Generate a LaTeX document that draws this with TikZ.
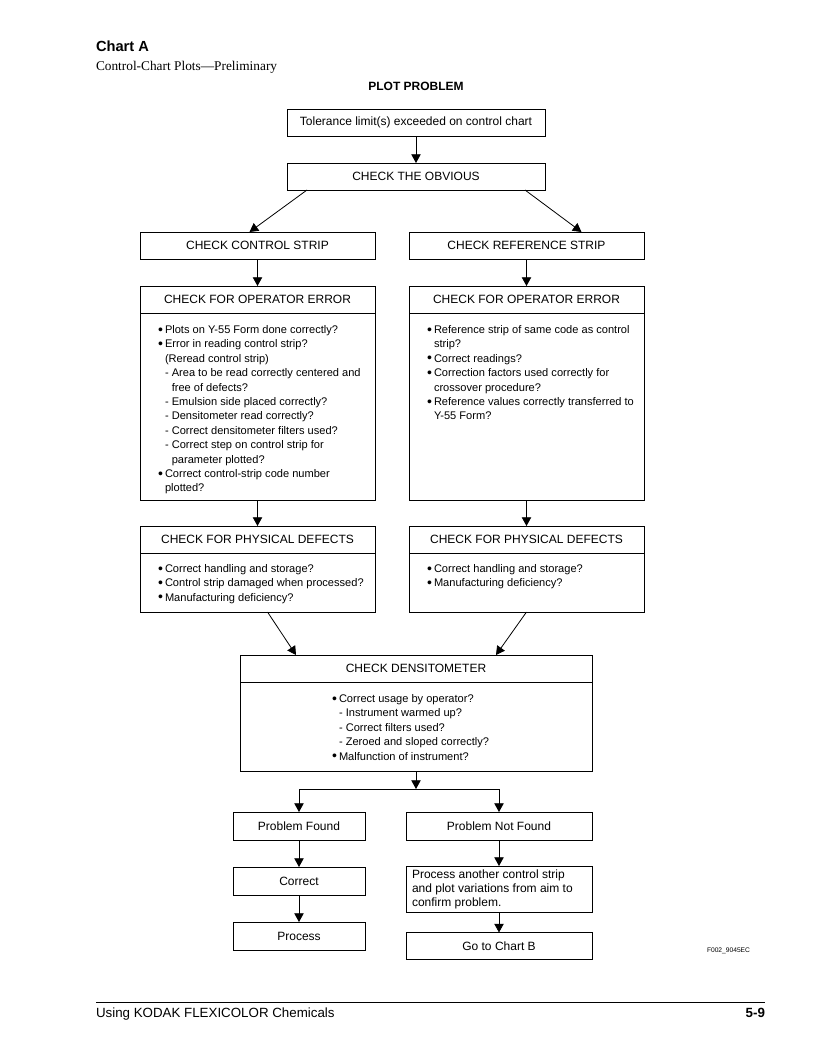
\documentclass[tikz,border=0pt]{standalone}
\usepackage{fontspec}
\setmainfont{Liberation Sans}
\newfontfamily\seriffont{Liberation Serif}
\usetikzlibrary{arrows.meta,calc}
\newcommand{\bul}{\makebox[5.25pt][l]{\raisebox{-0.4pt}{\fontsize{10.5}{10.5}\selectfont\textbullet}}}
\newcommand{\dsh}{\makebox[5.1pt][l]{-}}
\newcommand{\bi}{\hspace*{5.25pt}}
\newcommand{\di}{\hspace*{5.1pt}}
\tikzset{
  box/.style={draw, line width=0.6pt, inner sep=0pt, outer sep=0pt,
    font=\fontsize{9}{10.8}\selectfont, align=center},
  sz/.style 2 args={minimum width=#1*0.75pt, minimum height=#2*0.75pt},
  txt/.style={anchor=north west, inner sep=0pt, outer sep=0pt, align=left,
    font=\fontsize{8.3}{10.8}\selectfont},
  arr/.style={line width=0.6pt, -{Triangle[length=6.5pt,width=7pt]}},
  plain/.style={inner sep=0pt, outer sep=0pt}
}
\begin{document}
\begin{tikzpicture}[x=0.75pt,y=-0.75pt]
\path[fill=white] (0,0) rectangle (816,1056);
\useasboundingbox (0,0) rectangle (816,1056);

% headings
\node[plain,anchor=base west,font=\fontsize{11}{13}\selectfont\bfseries] (ttl) at (96,52) {Chart A};
\node[plain,anchor=base west,font=\seriffont\fontsize{10}{12}\selectfont] (sub) at (96,70) {Control-Chart Plots—Preliminary};
\node[plain,anchor=base,font=\fontsize{9}{11}\selectfont\bfseries] (plot) at (416,90.5) {PLOT PROBLEM};

% boxes
\node[box,sz={258}{27}] (tol) at (416,122.5) {Tolerance limit(s) exceeded on control chart};
\node[box,sz={258}{27}] (obv) at (416,176.5) {CHECK THE OBVIOUS};
\node[box,sz={235}{27}] (cs) at (257.5,245.5) {CHECK CONTROL STRIP};
\node[box,sz={235}{27}] (rs) at (526.5,245.5) {CHECK REFERENCE STRIP};

\node[box,sz={235}{27}] (oeLh) at (257.5,299.5) {CHECK FOR OPERATOR ERROR};
\node[box,sz={235}{187},anchor=north] (oeLb) at (oeLh.south) {};
\node[box,sz={235}{27}] (oeRh) at (526.5,299.5) {CHECK FOR OPERATOR ERROR};
\node[box,sz={235}{187},anchor=north] (oeRb) at (oeRh.south) {};

\node[txt] (oeLt) at ($(oeLb.north west)+(18,12.5)$) {%
\bul Plots on Y-55 Form done correctly?\\
\bul Error in reading control strip?\\
\bi (Reread control strip)\\
\bi\dsh Area to be read correctly centered and\\
\bi\di free of defects?\\
\bi\dsh Emulsion side placed correctly?\\
\bi\dsh Densitometer read correctly?\\
\bi\dsh Correct densitometer filters used?\\
\bi\dsh Correct step on control strip for\\
\bi\di parameter plotted?\\
\bul Correct control-strip code number\\
\bi plotted?};

\node[txt] (oeRt) at ($(oeRb.north west)+(18,12.5)$) {%
\bul Reference strip of same code as control\\
\bi strip?\\
\bul Correct readings?\\
\bul Correction factors used correctly for\\
\bi crossover procedure?\\
\bul Reference values correctly transferred to\\
\bi Y-55 Form?};

\node[box,sz={235}{27}] (pdLh) at (257.5,539.5) {CHECK FOR PHYSICAL DEFECTS};
\node[box,sz={235}{59},anchor=north] (pdLb) at (pdLh.south) {};
\node[box,sz={235}{27}] (pdRh) at (526.5,539.5) {CHECK FOR PHYSICAL DEFECTS};
\node[box,sz={235}{59},anchor=north] (pdRb) at (pdRh.south) {};

\node[txt] (pdLt) at ($(pdLb.north west)+(18,11.5)$) {%
\bul Correct handling and storage?\\
\bul Control strip damaged when processed?\\
\bul Manufacturing deficiency?};
\node[txt] (pdRt) at ($(pdRb.north west)+(18,11.5)$) {%
\bul Correct handling and storage?\\
\bul Manufacturing deficiency?};

\node[box,sz={352}{27}] (dnh) at (416,668.5) {CHECK DENSITOMETER};
\node[box,sz={352}{89},anchor=north] (dnb) at (dnh.south) {};
\node[txt] (dnt) at ($(dnb.north west)+(92,12.5)$) {%
\bul Correct usage by operator?\\
\bi\dsh Instrument warmed up?\\
\bi\dsh Correct filters used?\\
\bi\dsh Zeroed and sloped correctly?\\
\bul Malfunction of instrument?};

\node[box,sz={132}{28}] (pf) at (299,826) {Problem Found};
\node[box,sz={186}{28}] (pnf) at (499,826) {Problem Not Found};
\node[box,sz={132}{28}] (cor) at (299,881) {Correct};
\node[box,sz={132}{28}] (proc) at (299,936) {Process};
\node[box,sz={186}{46}] (anoth) at (499,889) {};
\node[txt,font=\fontsize{9}{10.5}\selectfont] (anotht) at ($(anoth.north west)+(6,3.5)$) {%
Process another control strip\\
and plot variations from aim to\\
confirm problem.};
\node[box,sz={186}{27}] (go) at (499,946) {Go to Chart B};

\node[plain,anchor=base west,font=\fontsize{5}{6}\selectfont] (fig) at (707,952.5) {F002\_9045EC};

% connectors
\draw[arr] (tol) -- (obv);
\draw[arr] ($(obv.south west)+(20,0)$) -- ($(cs.north)+(-8,0)$);
\draw[arr] ($(obv.south east)+(-20,0)$) -- ($(rs.north)+(55,0)$);
\draw[arr] (cs) -- (oeLh);
\draw[arr] (rs) -- (oeRh);
\draw[arr] (oeLb) -- (pdLh);
\draw[arr] (oeRb) -- (pdRh);
\draw[arr] ($(pdLb.south)+(10,0)$) -- ($(dnh.north west)+(56,0)$);
\draw[arr] ($(pdRb.south)+(0,0)$) -- ($(dnh.north east)+(-96,0)$);
\coordinate (j) at (416,789);
\draw[arr] (dnb) -- (j);
\draw[arr] (j) -| (pf.north);
\draw[arr] (j) -| (pnf.north);
\draw[arr] (pf) -- (cor);
\draw[arr] (cor) -- (proc);
\draw[arr] (pnf) -- (anoth);
\draw[arr] (anoth) -- (go);

% footer
\coordinate (fl) at (96,1002);
\coordinate (fr) at (765,1002);
\draw[line width=0.7pt] (fl) -- (fr);
\node[plain,anchor=base west,font=\fontsize{10}{12}\selectfont] (foot) at (96,1017) {Using KODAK FLEXICOLOR Chemicals};
\node[plain,anchor=base east,font=\fontsize{10}{12}\selectfont\bfseries] (pg) at (765,1017) {5-9};
\end{tikzpicture}
\end{document}
